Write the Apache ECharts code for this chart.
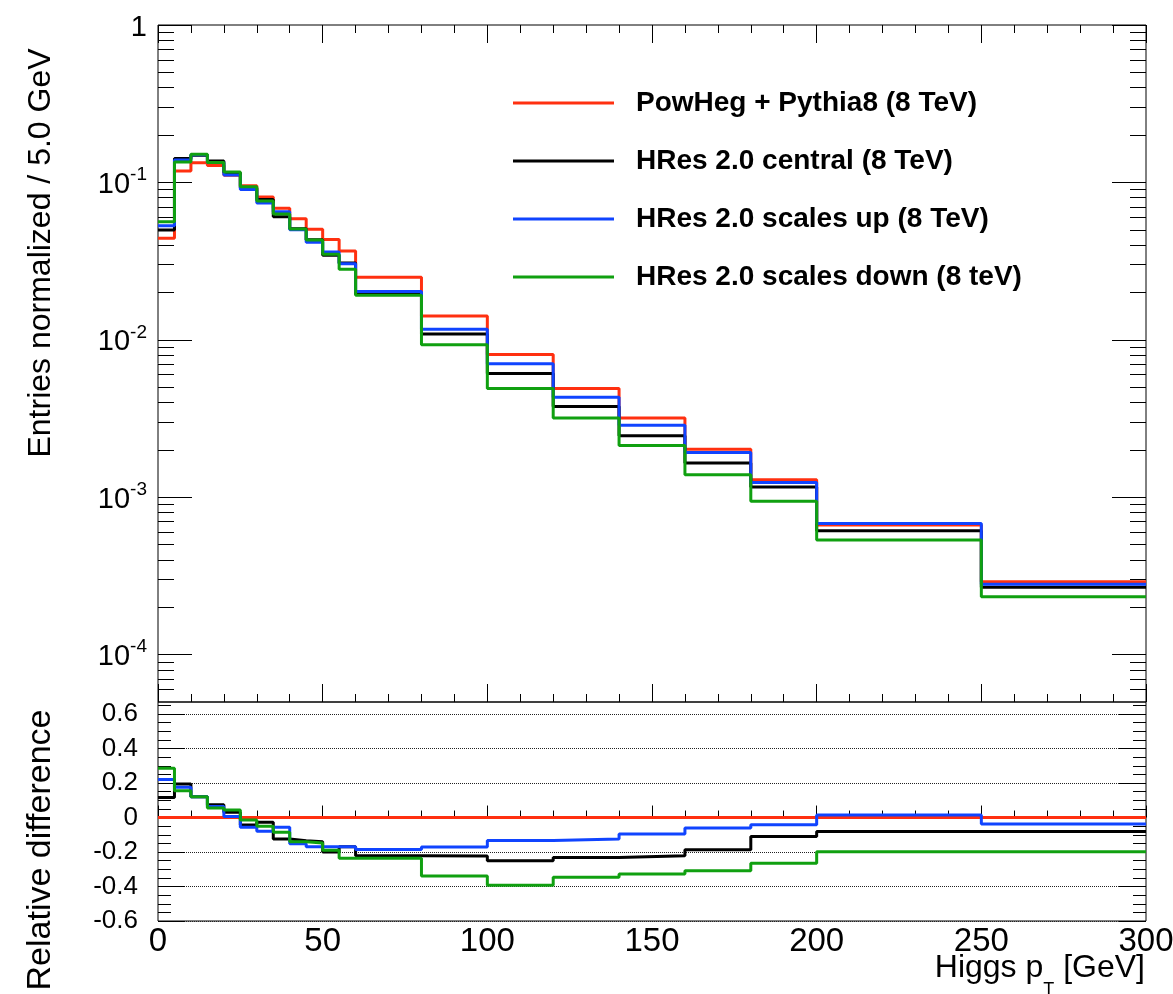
<!DOCTYPE html>
<html><head><meta charset="utf-8">
<script src="https://cdn.jsdelivr.net/npm/echarts@6/dist/echarts.min.js"></script>
<style>html,body{margin:0;padding:0;background:#fff}#c{width:1173px;height:994px}</style>
</head><body><div id="c"></div>
<script>
// ---- data ----
const binEdges = [0,5,10,15,20,25,30,35,40,45,50,55,60,80,100,120,140,160,180,200,250,300];
const seriesNames = ['PowHeg + Pythia8 (8 TeV)','HRes 2.0 central (8 TeV)','HRes 2.0 scales up (8 TeV)','HRes 2.0 scales down (8 teV)'];
const powheg   = [0.0441,0.118,0.1333,0.128,0.111,0.0953,0.0807,0.0684,0.0588,0.0504,0.0433,0.0367,0.0250,0.01419,0.00807,0.00491,0.00319,0.00202,0.00129,0.000666,0.000290];
const hresCentral = [0.0498,0.142,0.149,0.137,0.115,0.092,0.078,0.0605,0.0508,0.0432,0.0344,0.0308,0.0195,0.0109,0.0061,0.00377,0.00246,0.00165,0.00116,0.000612,0.000268];
const hresUp   = [0.0531,0.139,0.150,0.134,0.1113,0.0903,0.0740,0.0650,0.0500,0.0416,0.0361,0.0304,0.0203,0.01165,0.00704,0.00431,0.00287,0.00192,0.00124,0.000680,0.000280];
const hresDown = [0.0562,0.135,0.151,0.134,0.1164,0.0939,0.0763,0.0630,0.0506,0.0430,0.0350,0.0281,0.0192,0.0093,0.00491,0.00319,0.00213,0.00139,0.000942,0.000534,0.000233];
const relPowheg  = [0,0,0,0,0,0,0,0,0,0,0,0,0,0,0,0,0,0,0,0,0];
const relCentral = [0.116,0.194,0.12,0.074,0.03,-0.044,-0.028,-0.124,-0.134,-0.14,-0.2,-0.17,-0.222,-0.223,-0.25,-0.232,-0.221,-0.187,-0.11,-0.081,-0.081];
const relUp      = [0.22,0.175,0.12,0.064,0.006,-0.056,-0.08,-0.056,-0.152,-0.17,-0.17,-0.17,-0.186,-0.171,-0.133,-0.124,-0.095,-0.061,-0.042,0.015,-0.038];
const relDown    = [0.286,0.156,0.12,0.056,0.044,-0.014,-0.05,-0.086,-0.14,-0.148,-0.19,-0.236,-0.236,-0.339,-0.392,-0.347,-0.328,-0.309,-0.265,-0.198,-0.198];
// ---- tick values ----
const logMajorTicks = [1e-4,1e-3,1e-2,1e-1,1];
const logMinorTicks = [6e-5,7e-5,8e-5,9e-5,
  2e-4,3e-4,4e-4,5e-4,6e-4,7e-4,8e-4,9e-4,
  2e-3,3e-3,4e-3,5e-3,6e-3,7e-3,8e-3,9e-3,
  2e-2,3e-2,4e-2,5e-2,6e-2,7e-2,8e-2,9e-2,
  0.2,0.3,0.4,0.5,0.6,0.7,0.8,0.9];
const ratioMajorTicks = [-0.6,-0.4,-0.2,0,0.2,0.4,0.6];
const ratioMinorTicks = [-0.55,-0.5,-0.45,-0.35,-0.3,-0.25,-0.15,-0.1,-0.05,0.05,0.1,0.15,0.25,0.3,0.35,0.45,0.5,0.55,0.65];
const colors = ['#ff3010','#000000','#1044ff','#10a010'];

const FONT = 'Liberation Sans, Arial, sans-serif';
function stepData(vals){
  const d = vals.map((v,i)=>[binEdges[i], v]);
  d.push([binEdges[binEdges.length-1], vals[vals.length-1]]);
  return d;
}
const blk = {color:'#000', width:1};
const xBase = {type:'value', min:0, max:300, interval:50,
  axisLine:{show:false}, splitLine:{show:false},
  axisTick:{inside:true, length:18, lineStyle:blk},
  minorTick:{show:true, splitNumber:5, length:8, lineStyle:blk},
  axisLabel:{show:false}};
const yLog = {type:'log', logBase:10, min:5e-5, max:1, gridIndex:0,
  axisLine:{show:false}, splitLine:{show:false}, axisLabel:{show:false}, minorTick:{show:false}};
const yRat = {type:'value', min:-0.6, max:0.67, interval:0.2, gridIndex:1,
  axisLine:{show:false}, splitLine:{show:false}, axisLabel:{show:false}, minorTick:{show:false}};

const topSeries = [powheg,hresCentral,hresUp,hresDown].map((v,i)=>({
  type:'line', name:seriesNames[i], xAxisIndex:0, yAxisIndex:0, step:'end',
  data:stepData(v), symbol:'none', showSymbol:false, color:colors[i],
  lineStyle:{color:colors[i], width:3}, itemStyle:{color:colors[i]}, animation:false, z:3+i
}));
const botSeries = [relPowheg,relCentral,relUp,relDown].map((v,i)=>({
  type:'line', name:'rel '+seriesNames[i], xAxisIndex:2, yAxisIndex:4, step:'end',
  data:stepData(v), symbol:'none', showSymbol:false, color:colors[i],
  lineStyle:{color:colors[i], width:3}, itemStyle:{color:colors[i]}, animation:false, z:3+i
}));

const chart = echarts.init(document.getElementById('c'), null, {renderer:'canvas'});
chart.setOption({
  backgroundColor:'#fff',
  animation:false,
  textStyle:{fontFamily:FONT},
  grid:[
    {left:158, top:25, width:988, height:677, show:true, borderColor:'#000', borderWidth:1, backgroundColor:'transparent', outerBoundsMode:'none', containLabel:false},
    {left:158, top:702, width:988, height:219, show:true, borderColor:'#000', borderWidth:1, backgroundColor:'transparent', outerBoundsMode:'none', containLabel:false}
  ],
  legend:{
    data:seriesNames, left:508, top:83, orient:'vertical', icon:'rect',
    itemWidth:101, itemHeight:3, itemGap:28, selectedMode:false,
    textStyle:{fontSize:28, fontWeight:'bold', fontFamily:FONT, color:'#000', lineHeight:30, padding:[0,0,0,17]}
  },
  xAxis:[
    Object.assign({}, xBase, {gridIndex:0, position:'bottom'}),
    Object.assign({}, xBase, {gridIndex:0, position:'top'}),
    Object.assign({}, xBase, {gridIndex:1, position:'bottom',
      axisTick:{inside:true, length:12, lineStyle:blk},
      minorTick:{show:true, splitNumber:5, length:7, lineStyle:blk},
      axisLabel:{show:true, fontSize:33, margin:4, color:'#000', fontFamily:FONT}})
  ],
  yAxis:[
    Object.assign({}, yLog, {position:'left',
      axisTick:{inside:true, length:34, lineStyle:blk, customValues:logMajorTicks},
      axisLabel:{show:true, customValues:logMajorTicks, margin:11, color:'#000',
        formatter:function(v){ const e=Math.round(Math.log10(v)); return e===0 ? '{b|1}' : '{b|10}{s|'+e+'}'; },
        rich:{b:{fontSize:29, lineHeight:34, verticalAlign:'bottom', fontFamily:FONT, color:'#000'},
              s:{fontSize:19, lineHeight:19, verticalAlign:'top', fontFamily:FONT, color:'#000'}}}}),
    Object.assign({}, yLog, {position:'left',
      axisTick:{inside:true, length:16, lineStyle:blk, customValues:logMinorTicks}}),
    Object.assign({}, yLog, {position:'right',
      axisTick:{inside:true, length:34, lineStyle:blk, customValues:logMajorTicks}}),
    Object.assign({}, yLog, {position:'right',
      axisTick:{inside:true, length:16, lineStyle:blk, customValues:logMinorTicks}}),
    Object.assign({}, yRat, {position:'left',
      axisTick:{inside:true, length:27, lineStyle:blk, customValues:ratioMajorTicks},
      splitLine:{show:true, lineStyle:{color:'#222', width:1, type:'dotted'}},
      axisLabel:{show:true, customValues:ratioMajorTicks, fontSize:26, margin:20, color:'#000', fontFamily:FONT}}),
    Object.assign({}, yRat, {position:'left',
      axisTick:{inside:true, length:13, lineStyle:blk, customValues:ratioMinorTicks}}),
    Object.assign({}, yRat, {position:'right',
      axisTick:{inside:true, length:27, lineStyle:blk, customValues:ratioMajorTicks}}),
    Object.assign({}, yRat, {position:'right',
      axisTick:{inside:true, length:13, lineStyle:blk, customValues:ratioMinorTicks}})
  ],
  graphic:[
    {type:'text', x:41, y:253, rotation:Math.PI/2,
     style:{text:'Entries normalized / 5.0 GeV', fontSize:32, fontFamily:FONT, fill:'#000', align:'center', verticalAlign:'middle'}},
    {type:'text', x:41, y:850, rotation:Math.PI/2,
     style:{text:'Relative difference', fontSize:34, fontFamily:FONT, fill:'#000', align:'center', verticalAlign:'middle'}},
    {type:'text', x:1145, y:952, 
     style:{text:'{m|Higgs p}{s|T}{m| [GeV]}', fill:'#000', align:'right', verticalAlign:'top',
       rich:{m:{fontSize:32, lineHeight:40, verticalAlign:'top', fontFamily:FONT, fill:'#000'},
             s:{fontSize:18, lineHeight:18, verticalAlign:'top', padding:[29,0,0,0], fontFamily:FONT, fill:'#000'}}}}
  ],
  series: topSeries.concat(botSeries)
});
</script></body></html>
